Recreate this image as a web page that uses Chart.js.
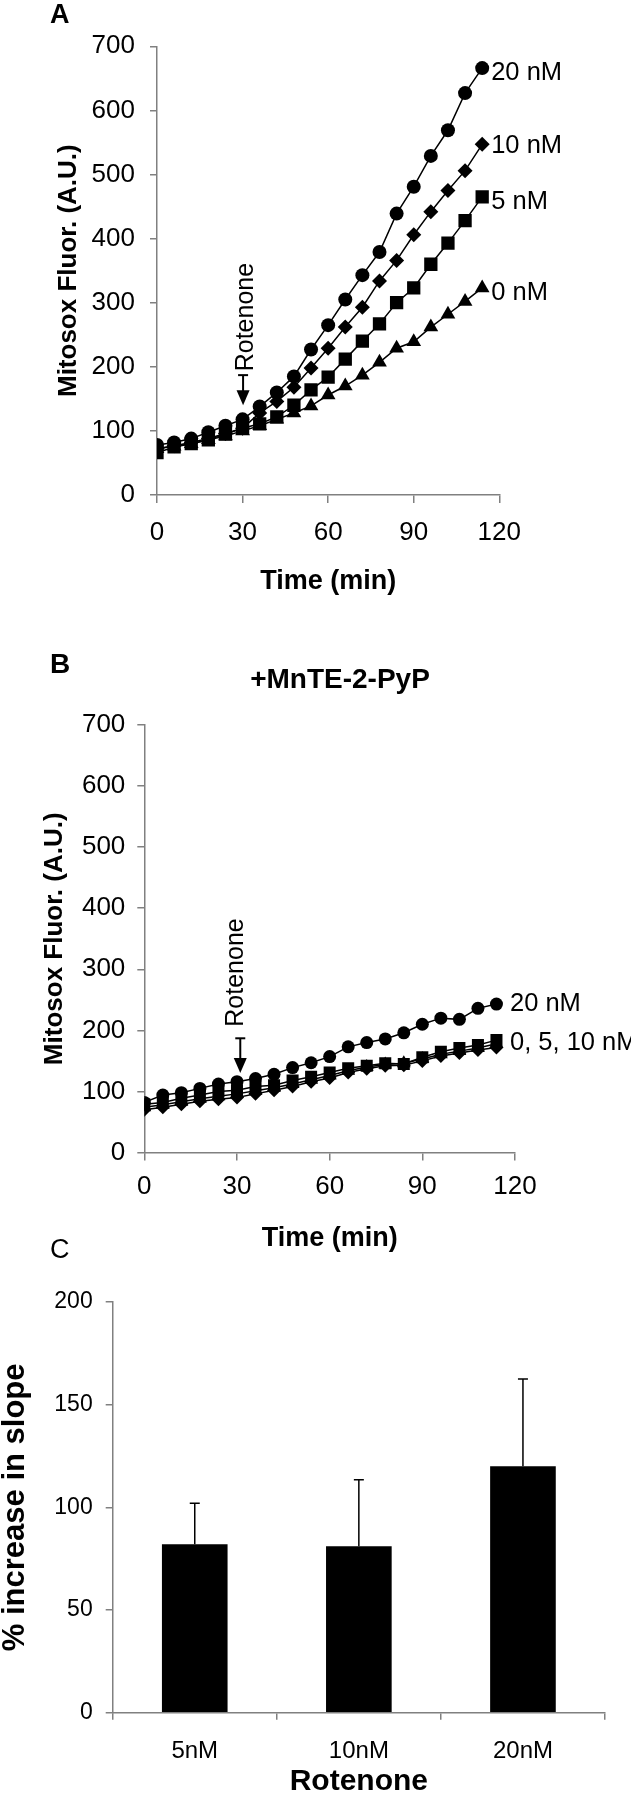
<!DOCTYPE html>
<html><head><meta charset="utf-8">
<script src="https://cdn.jsdelivr.net/npm/chart.js@4.4.0/dist/chart.umd.min.js"></script>
<style>
html,body{margin:0;padding:0;background:#fff;}
body{width:631px;height:1800px;position:relative;overflow:hidden;}
canvas{position:absolute;left:0;}
</style></head>
<body>
<canvas id="cA" width="631" height="620" style="top:0px"></canvas>
<canvas id="cB" width="631" height="640" style="top:620px"></canvas>
<canvas id="cC" width="631" height="570" style="top:1230px"></canvas>
<script>
// ---------- DATA ----------
const timeMin = [0,6,12,18,24,30,36,42,48,54,60,66,72,78,84,90,96,102,108,114];
const timeTicks = [0,30,60,90,120];

// Panel A: Mitosox fluorescence (A.U.)
const seriesLabelsA = ['20 nM','10 nM','5 nM','0 nM'];
const a20nM = [78,82,88,98,108,118,138,160,185,227,265,305,343,379,439,481,529,569,627,666];
const a10nM = [72,77,82,88,96,104,128,146,168,198,229,262,293,334,366,406,442,475,506,547];
const a5nM  = [66,75,80,86,95,104,111,122,140,164,184,212,240,267,300,323,360,393,428,465];
const a0nM  = [72,76,80,86,92,100,108,118,128,139,156,170,187,207,229,239,262,282,302,323];

// Panel B: +MnTE-2-PyP
const seriesLabelsB = ['20 nM','0, 5, 10 nM'];
const b20nM = [82,94,98,105,112,116,121,128,139,147,157,173,180,186,196,210,220,218,236,243];
const b10nM = [70,74,79,84,87,90,96,102,108,116,122,131,137,142,143,150,158,163,168,172];
const b5nM  = [79,82,89,94,100,102,108,110,118,124,131,138,142,146,145,156,165,171,176,184];
const b0nM  = [74,78,83,88,92,96,101,106,112,119,126,134,140,144,146,153,161,166,171,178];

// Panel C: % increase in slope
const rotenoneDoses = ['5nM','10nM','20nM'];
const slopeIncrease = [82,81,120];
const slopeSD = [20,32.5,42.5];
const slopeTicks = [0,50,100,150,200];

// ---------- STYLE / HELPERS ----------
const FONT = "'Liberation Sans', Arial, Helvetica, sans-serif";
Chart.defaults.font.family = FONT;
Chart.defaults.color = '#000';
const AXIS = '#808080';
const gridOpts = (tl) => ({display:true, drawOnChartArea:false, drawTicks:true, tickLength:tl, color:AXIS, lineWidth:1.5});
const borderOpts = {display:true, color:AXIS, width:1.5};
const fixY = (w) => (s) => { s.width = w; s.paddingTop = 0; s.paddingBottom = 0; s.paddingLeft = 0; s.paddingRight = 0; };
const fixX = (h) => (s) => { s.height = h; s.paddingTop = 0; s.paddingBottom = 0; s.paddingLeft = 0; s.paddingRight = 0; };

function mkLine(label, values, style, r) {
  return {label, data: timeMin.map((t,i)=>({x:t, y:values[i]})),
    borderColor:'#000', borderWidth:1.5, backgroundColor:'#000',
    pointStyle:style, pointRadius:r, pointHoverRadius:r,
    pointBackgroundColor:'#000', pointBorderColor:'#000', pointBorderWidth:0,
    tension:0, fill:false};
}

const endLabelPlugin = {
  id:'endLabels',
  afterDatasetsDraw(chart, args, o) {
    const ctx = chart.ctx; ctx.save();
    ctx.font = o.font; ctx.fillStyle = '#000'; ctx.textAlign = 'left'; ctx.textBaseline = 'middle';
    o.items.forEach(it => {
      const pts = chart.getDatasetMeta(it.dataset).data;
      const el = pts[pts.length-1];
      ctx.fillText(it.text, el.x + it.dx, el.y + it.dy);
    });
    ctx.restore();
  }
};

const arrowPlugin = {
  id:'rotArrow',
  afterDatasetsDraw(chart, args, o) {
    const ctx = chart.ctx, xs = chart.scales.x, ys = chart.scales.y;
    const x = xs.getPixelForValue(o.time) + o.dx;
    const yTop = ys.getPixelForValue(o.top), yTip = ys.getPixelForValue(o.tip);
    ctx.save();
    ctx.strokeStyle = '#000'; ctx.fillStyle = '#000'; ctx.lineWidth = 2;
    ctx.beginPath(); ctx.moveTo(x, yTop); ctx.lineTo(x, yTip - 12); ctx.stroke();
    ctx.beginPath(); ctx.moveTo(x-5, yTop); ctx.lineTo(x+5, yTop); ctx.stroke();
    ctx.beginPath(); ctx.moveTo(x-6.5, yTip-15); ctx.lineTo(x+6.5, yTip-15); ctx.lineTo(x, yTip); ctx.closePath(); ctx.fill();
    ctx.translate(x + o.textDx, ys.getPixelForValue(o.textStart));
    ctx.rotate(-Math.PI/2);
    ctx.font = o.font; ctx.textAlign = 'left'; ctx.textBaseline = 'middle';
    ctx.fillText(o.text, 0, 0);
    ctx.restore();
  }
};

const panelTextPlugin = {
  id:'panelText',
  afterDraw(chart, args, o) {
    const ctx = chart.ctx; ctx.save(); ctx.fillStyle = '#000'; ctx.textBaseline = 'middle';
    o.items.forEach(it => { ctx.font = it.font; ctx.textAlign = it.align; ctx.fillText(it.text, it.x, it.y); });
    ctx.restore();
  }
};

const errorBarPlugin = {
  id:'errorBars',
  afterDatasetsDraw(chart, args, o) {
    const ctx = chart.ctx, ys = chart.scales.y;
    const meta = chart.getDatasetMeta(0);
    const vals = chart.data.datasets[0].data;
    ctx.save(); ctx.strokeStyle = '#000'; ctx.lineWidth = 1.5;
    meta.data.forEach((bar, i) => {
      const yEnd = ys.getPixelForValue(vals[i] + o.sd[i]);
      ctx.beginPath(); ctx.moveTo(bar.x, bar.y); ctx.lineTo(bar.x, yEnd);
      ctx.moveTo(bar.x - o.capHalf, yEnd); ctx.lineTo(bar.x + o.capHalf, yEnd); ctx.stroke();
    });
    ctx.restore();
  }
};

function lineScales(yTitle, yW, xH, xPad, yPad) {
  return {
    x:{type:'linear', min:0, max:120,
       afterBuildTicks:(s)=>{ s.ticks = timeTicks.map(v=>({value:v})); },
       ticks:{padding:xPad, maxRotation:0, color:'#000', font:{size:26, lineHeight:1}},
       grid:gridOpts(8), border:borderOpts,
       title:{display:true, text:'Time (min)', color:'#000', padding:0, font:{size:27, weight:'bold', lineHeight:1}},
       afterFit:fixX(xH)},
    y:{min:0, max:700,
       ticks:{stepSize:100, padding:yPad, color:'#000', font:{size:26, lineHeight:1}},
       grid:gridOpts(7), border:borderOpts,
       title:{display:true, text:yTitle, color:'#000', padding:0, font:{size:26, weight:'bold', lineHeight:1}},
       afterFit:fixY(yW)}
  };
}

// ---------- PANEL A ----------
new Chart(document.getElementById('cA'), {
  type:'line',
  data:{datasets:[
    mkLine(seriesLabelsA[0], a20nM, 'circle', 7),
    mkLine(seriesLabelsA[1], a10nM, 'rectRot', 7.5),
    mkLine(seriesLabelsA[2], a5nM, 'rect', 9.4),
    mkLine(seriesLabelsA[3], a0nM, 'triangle', 8.5)
  ]},
  options:{
    responsive:false, devicePixelRatio:1, animation:false, events:[],
    layout:{padding:{left:56, right:131.7, top:46.3, bottom:25}},
    plugins:{legend:{display:false}, tooltip:{enabled:false}, title:{display:false},
      endLabels:{font:'25.5px '+FONT, items:[
        {dataset:0, text:seriesLabelsA[0], dx:9, dy:5},
        {dataset:1, text:seriesLabelsA[1], dx:9, dy:2},
        {dataset:2, text:seriesLabelsA[2], dx:9, dy:5},
        {dataset:3, text:seriesLabelsA[3], dx:9, dy:5}]},
      rotArrow:{time:30, dx:0.5, top:187, tip:140, textStart:193, textDx:3.5, text:'Rotenone', font:'25px '+FONT},
      panelText:{items:[{text:'A', x:50, y:16, font:'bold 27px '+FONT, align:'left'}]}
    },
    scales:lineScales('Mitosox Fluor. (A.U.)', 101, 100, 17, 15)
  },
  plugins:[endLabelPlugin, arrowPlugin, panelTextPlugin]
});

// ---------- PANEL B ----------
new Chart(document.getElementById('cB'), {
  type:'line',
  data:{datasets:[
    mkLine('20 nM', b20nM, 'circle', 6.5),
    mkLine('5 nM', b5nM, 'rect', 8.5),
    mkLine('10 nM', b10nM, 'rectRot', 7),
    mkLine('0 nM', b0nM, 'triangle', 8)
  ]},
  options:{
    responsive:false, devicePixelRatio:1, animation:false, events:[],
    layout:{padding:{left:42, right:116, top:105, bottom:8}},
    plugins:{legend:{display:false}, tooltip:{enabled:false}, title:{display:false},
      endLabels:{font:'25.5px '+FONT, items:[
        {dataset:0, text:seriesLabelsB[0], dx:13.5, dy:0},
        {dataset:1, text:seriesLabelsB[1], dx:13.5, dy:3}]},
      rotArrow:{time:30, dx:3.3, top:187, tip:130, textStart:206, textDx:-4, text:'Rotenone', font:'25px '+FONT},
      panelText:{items:[
        {text:'B', x:50, y:45, font:'bold 28px '+FONT, align:'left'},
        {text:'+MnTE-2-PyP', x:340, y:60, font:'bold 28px '+FONT, align:'center'}]}
    },
    scales:lineScales('Mitosox Fluor. (A.U.)', 102.3, 99.5, 13.2, 12)
  },
  plugins:[endLabelPlugin, arrowPlugin, panelTextPlugin]
});

// ---------- PANEL C ----------
new Chart(document.getElementById('cC'), {
  type:'bar',
  data:{labels:rotenoneDoses, datasets:[{label:'% increase in slope', data:slopeIncrease,
    backgroundColor:'#000', borderWidth:0, barPercentage:0.4, categoryPercentage:1.0}]},
  options:{
    responsive:false, devicePixelRatio:1, animation:false, events:[],
    layout:{padding:{left:0, right:26, top:72, bottom:3.3}},
    plugins:{legend:{display:false}, tooltip:{enabled:false}, title:{display:false},
      errorBars:{sd:slopeSD, capHalf:5},
      panelText:{items:[{text:'C', x:50, y:21, font:'27px '+FONT, align:'left'}]}
    },
    scales:{
      x:{ticks:{padding:20, color:'#000', font:{size:24, lineHeight:1}},
         grid:Object.assign(gridOpts(7), {offset:true}), border:borderOpts,
         title:{display:true, text:'Rotenone', color:'#000', padding:0, font:{size:30, weight:'bold', lineHeight:1}},
         afterFit:fixX(84)},
      y:{min:0, max:200,
         afterBuildTicks:(s)=>{ s.ticks = slopeTicks.map(v=>({value:v})); },
         ticks:{padding:13, color:'#000', font:{size:23, lineHeight:1}},
         grid:gridOpts(7), border:borderOpts,
         title:{display:true, text:'% increase in slope', color:'#000', padding:0, font:{size:31, weight:'bold', lineHeight:1}},
         afterFit:fixY(112.7)}
    }
  },
  plugins:[errorBarPlugin, panelTextPlugin]
});
</script>
</body></html>
